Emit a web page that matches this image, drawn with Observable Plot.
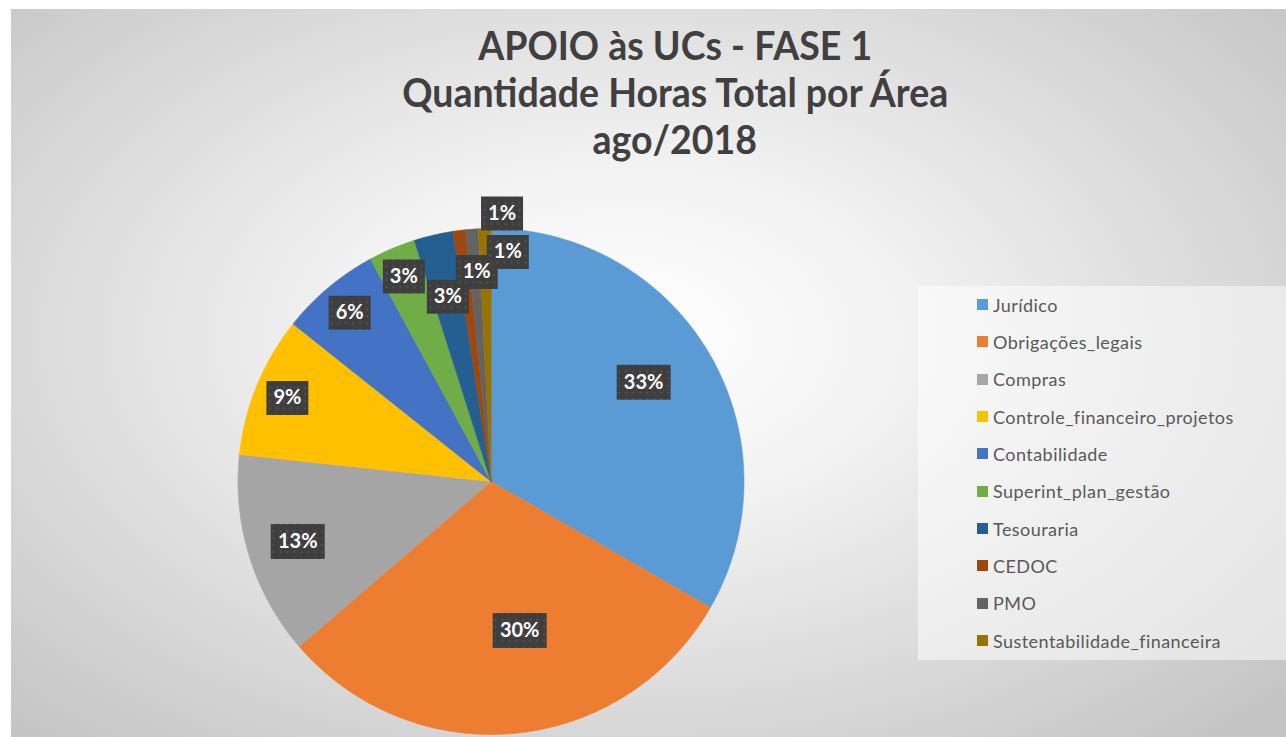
<!DOCTYPE html>
<html><head><meta charset="utf-8">
<script src="https://cdn.jsdelivr.net/npm/d3@7"></script>
<script src="https://cdn.jsdelivr.net/npm/@observablehq/plot@0.6"></script>
<style>
html,body{margin:0;padding:0;background:#fff;}
#wrap{position:relative;width:1286px;height:737px;overflow:hidden;background:#fff;font-family:Lato,"Open Sans",sans-serif;}
#bg{position:absolute;left:11px;top:9px;right:0;bottom:0;
  background:radial-gradient(ellipse 70% 75% at 48% 45%, #ffffff 0%, #f3f3f3 30%, #c4c4c4 100%);}
#title{position:absolute;left:64px;right:0;top:22px;text-align:center;font-weight:bold;font-size:40px;line-height:47px;color:#404040;}
#title span{display:inline-block;white-space:nowrap;transform-origin:50% 50%;}
#chart{position:absolute;left:0;top:0;}
#legend{position:absolute;left:918px;top:286px;width:368px;height:374px;background:rgba(255,255,255,0.5);}
#legend > div{margin:0 !important;padding-left:59px;}
.lg-swatch{height:37.33px;padding:0 !important;margin:0 !important;display:flex !important;align-items:center;letter-spacing:0.45px;}
.lg-swatch svg{margin-right:5px !important;}
g[aria-label="label-box"]{filter:drop-shadow(3px 3px 3px rgba(0,0,0,0.45));}
</style>
</head><body>
<div id="wrap">
  <div id="bg"></div>
  <div id="chart"></div>
  <div id="title"><span>APOIO às UCs - FASE 1</span><br><span>Quantidade Horas Total por Área</span><br><span>ago/2018</span></div>
  <div id="legend"></div>
</div>
<script>
// ---- data ----
const categories = ["Jurídico","Obrigações_legais","Compras","Controle_financeiro_projetos","Contabilidade","Superint_plan_gestão","Tesouraria","CEDOC","PMO","Sustentabilidade_financeira"];
const shares = [33.3, 30.4, 13.0, 9.0, 6.4, 3.0, 2.5, 0.8, 0.8, 0.8];
const colors = ["#5B9BD5","#ED7D31","#A5A5A5","#FFC000","#4472C4","#70AD47","#255E91","#9E480E","#636363","#997300"];

// ---- layout ----
const W = 1286, H = 737, cx = 490.5, cy = 481, R = 253;
const total = d3.sum(shares);
let acc = 0;
const slices = categories.map((c, i) => {
  const a0 = acc / total * 2 * Math.PI; acc += shares[i];
  const a1 = acc / total * 2 * Math.PI;
  return {c, i, a0, a1, share: shares[i] / total};
});
const pts = [];
for (const s of slices) {
  pts.push({c: s.c, x: 0, y: 0});
  const n = Math.max(2, Math.ceil((s.a1 - s.a0) / (Math.PI / 360)));
  for (let k = 0; k <= n; k++) {
    const a = s.a0 + (s.a1 - s.a0) * k / n;
    pts.push({c: s.c, x: Math.sin(a), y: Math.cos(a)});
  }
}
// label placement (approximation of Excel "best fit")
const deg = Math.PI / 180;
const tinyStagger = [[0.83, 3.3], [0.91, 8.5], [1.06, 3.8]];
let tinyIdx = 0, smallIdx = 0, bigIdx = 0;
const labels = slices.map(s => {
  const mid = (s.a0 + s.a1) / 2;
  let r, a = mid;
  if (s.share >= 0.2) { const b = bigIdx++; r = b === 0 ? 0.72 : 0.6; a = mid - (b === 0 ? 3 : 5.5) * deg; }
  else if (s.share >= 0.04) r = s.share > 0.1 ? 0.8 : 0.87;
  else if (s.share >= 0.015) { r = smallIdx++ % 2 === 0 ? 0.88 : 0.75; }
  else { const t = tinyStagger[Math.min(tinyIdx++, 2)]; r = t[0]; a = mid + t[1] * deg; }
  const text = Math.round(s.share * 100) + "%";
  return {x: r * Math.sin(a), y: r * Math.cos(a), text};
});
const boxSym = (w, h) => ({draw(ctx) { ctx.moveTo(-w/2, -h/2); ctx.lineTo(w/2, -h/2); ctx.lineTo(w/2, h/2); ctx.lineTo(-w/2, h/2); ctx.closePath(); }});

const plot = Plot.plot({
  width: W, height: H, margin: 0,
  x: {domain: [-1, 1], range: [cx - R, cx + R], axis: null},
  y: {domain: [-1, 1], range: [cy + R, cy - R], axis: null},
  color: {domain: categories, range: colors},
  style: {background: "transparent", overflow: "visible"},
  marks: [
    Plot.line(pts, {x: "x", y: "y", z: "c", fill: "c", stroke: "c", strokeWidth: 0.6, curve: "linear-closed"}),
    Plot.dot(labels.filter(d => d.text.length === 2), {x: "x", y: "y", r: 5, symbol: boxSym(42, 34), fill: "url(#dots)", stroke: "none", ariaLabel: "label-box"}),
    Plot.dot(labels.filter(d => d.text.length >= 3), {x: "x", y: "y", r: 5, symbol: boxSym(54, 35), fill: "url(#dots)", stroke: "none", ariaLabel: "label-box"}),
    Plot.text(labels, {x: "x", y: "y", text: "text", fill: "white", fontWeight: "bold", fontSize: 20, fontFamily: "Lato, sans-serif"})
  ]
});
d3.select(plot).insert("defs", ":first-child").html(
  '<pattern id="dots" width="7" height="7" patternUnits="userSpaceOnUse"><rect width="7" height="7" fill="#3e3e3e"/><circle cx="3.5" cy="3.5" r="1.1" fill="#565656"/></pattern>');
document.getElementById("chart").appendChild(plot);

const leg = Plot.legend({
  color: {domain: categories, range: colors},
  columns: 1, swatchSize: 11, className: "lg",
  style: {fontSize: "18px", fontFamily: "Lato, sans-serif", color: "#595959", background: "transparent"}
});
document.getElementById("legend").appendChild(leg);

// condense title to match the reference's narrow bold face
const spans = document.querySelectorAll("#title span");
const k = 546 / spans[1].getBoundingClientRect().width;
spans.forEach(s => s.style.transform = `scaleX(${k})`);
</script>
</body></html>
